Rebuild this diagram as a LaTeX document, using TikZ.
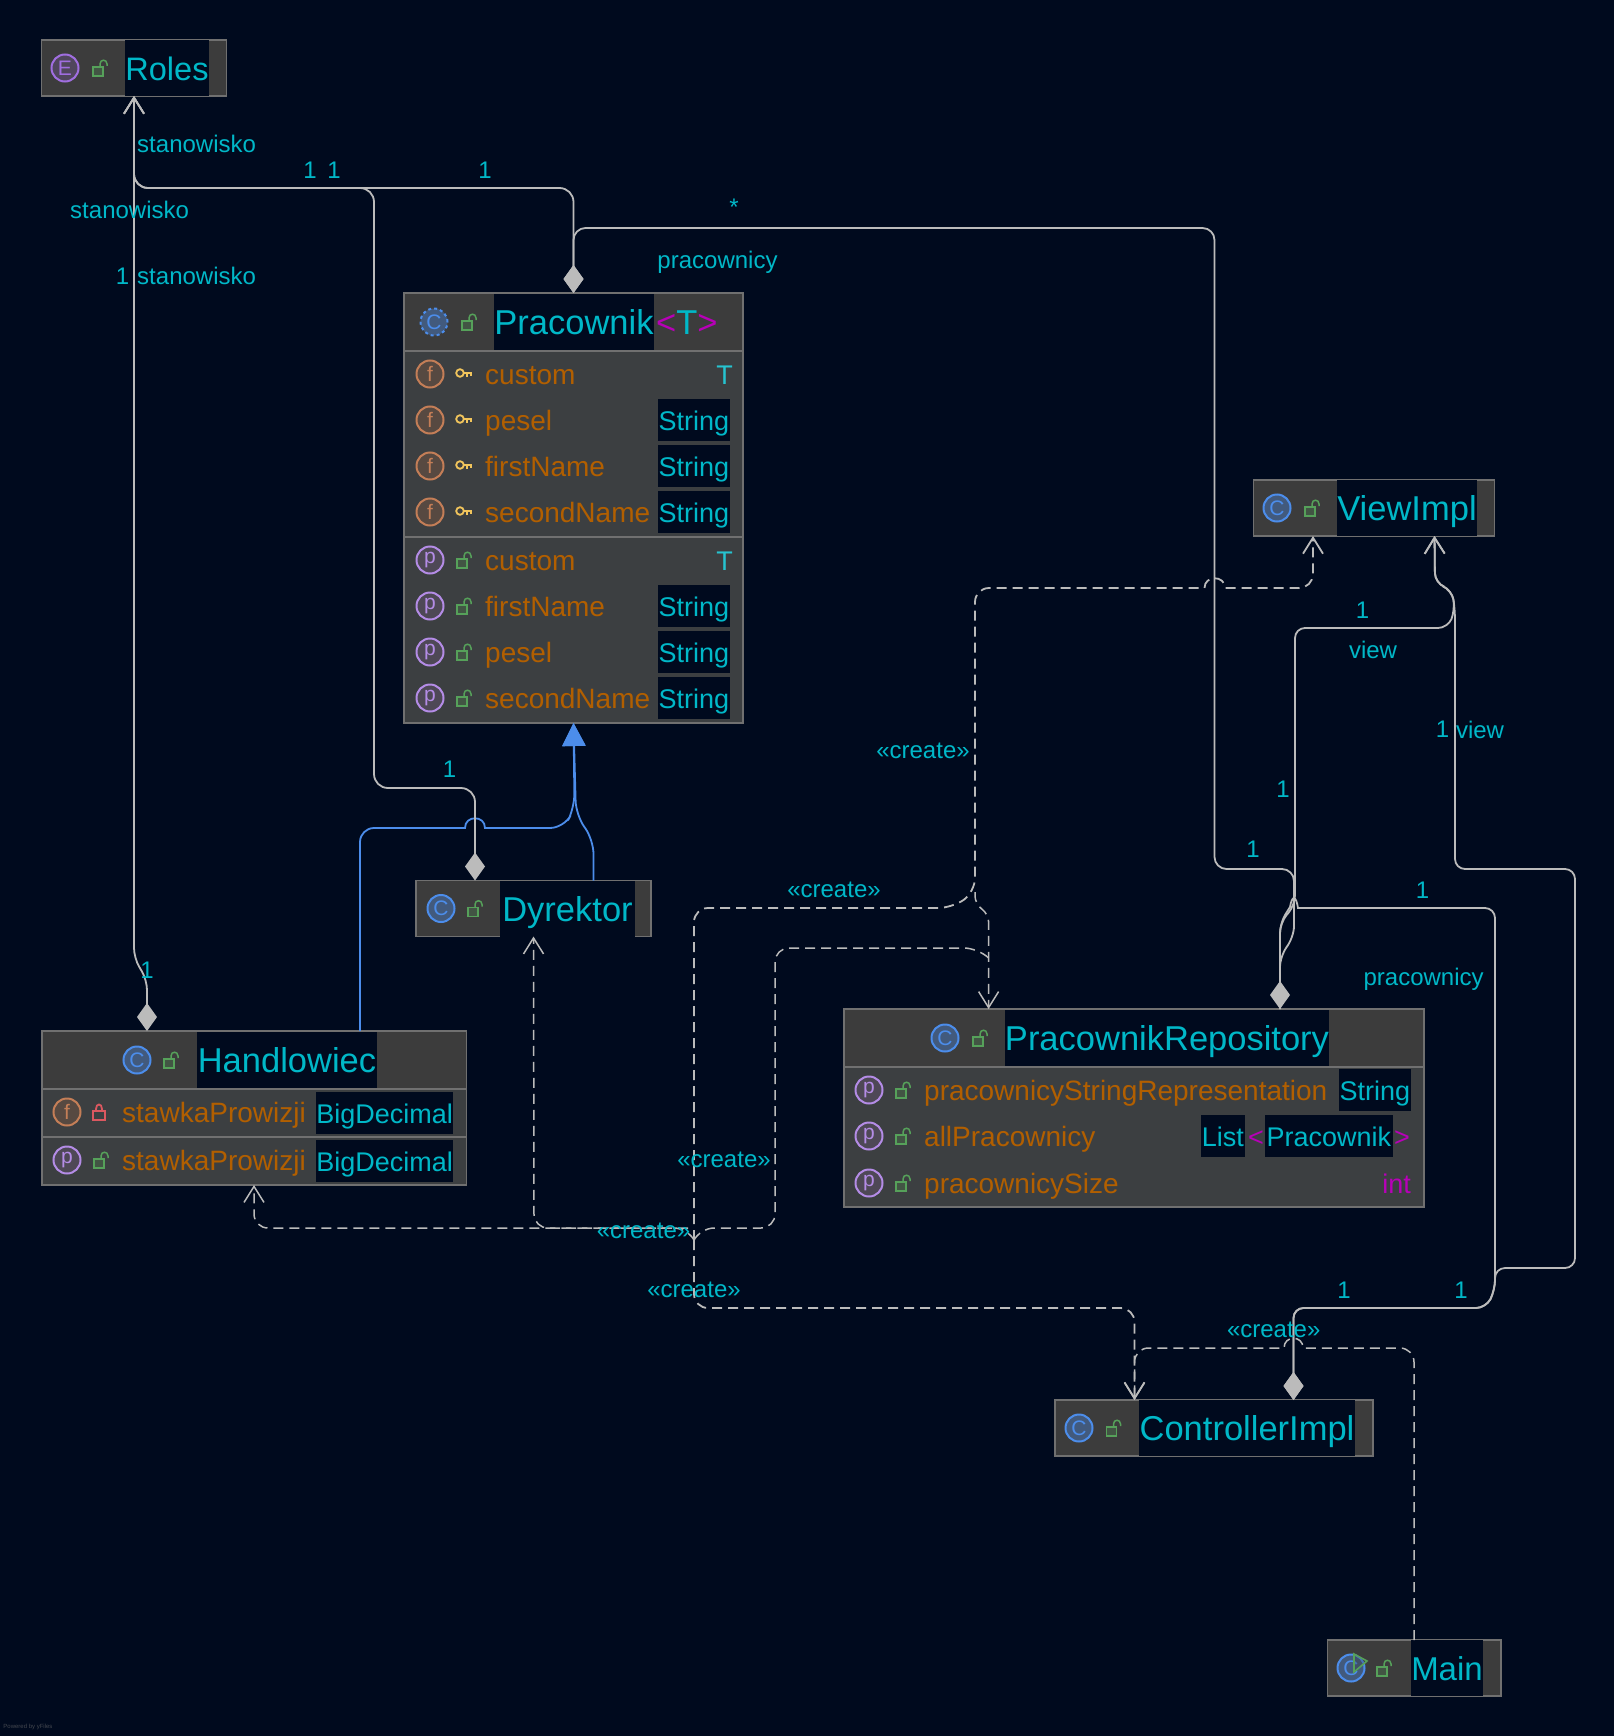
\documentclass[tikz,border=0pt]{standalone}
\usepackage{fontspec}
\setmainfont{Liberation Sans}
\usetikzlibrary{arrows.meta}
\definecolor{bgcol}{HTML}{000A1E}
\definecolor{headcol}{HTML}{3C3C3C}
\definecolor{bodycol}{HTML}{3C3F41}
\definecolor{framecol}{HTML}{707070}
\definecolor{edgecol}{HTML}{BBBBBB}
\definecolor{inhcol}{HTML}{4C8DEB}
\definecolor{namecol}{HTML}{00B8C8}
\definecolor{membcol}{HTML}{B25F00}
\definecolor{magcol}{HTML}{B800B8}
\definecolor{lockcol}{HTML}{56A15A}
\definecolor{redcol}{HTML}{DB5860}
\definecolor{keycol}{HTML}{F2C55C}
\definecolor{fieldcol}{HTML}{C47E57}
\definecolor{propcol}{HTML}{B48CE6}
\definecolor{enumcol}{HTML}{A06EE0}
\tikzset{
  classbox/.style={draw=framecol,fill=headcol,line width=1.5pt,inner sep=0pt,outer sep=0pt},
  namebox/.style={fill=bgcol,text=namecol,inner sep=0pt,text height=40.5pt,text depth=15.5pt,font=\fontsize{34.5}{36}\selectfont},
  typebox/.style={fill=bgcol,text=namecol,inner sep=0pt,text height=31pt,text depth=11pt,anchor=east,font=\fontsize{27}{30}\selectfont},
  membertext/.style={text=membcol,inner sep=0pt,anchor=base west,font=\fontsize{28}{30}\selectfont},
  elabel/.style={text=namecol,inner sep=0pt,font=\fontsize{24}{26}\selectfont},
  kindbase/.style={circle,line width=2pt,inner sep=0pt,minimum size=27pt,font=\fontsize{21}{22}\selectfont},
  kindc/.style={kindbase,draw=inhcol,fill=inhcol!35!bodycol,text=inhcol},
  kinde/.style={kindbase,draw=enumcol,fill=enumcol!20!headcol,text=enumcol},
  kindf/.style={kindbase,draw=fieldcol,fill=fieldcol!20!headcol,text=fieldcol},
  kindp/.style={kindbase,draw=propcol,fill=propcol!15!headcol,text=propcol},
  openlock/.pic={
    \draw[lockcol,line width=1.5pt,fill=lockcol!25!headcol] (-6,-1) rectangle (4,8);
    \draw[lockcol,line width=1.5pt] (1,-1) -- (1,-4) .. controls (1,-9) and (8,-9) .. (8,-4) -- (8,-2);
  },
  shutlock/.pic={
    \draw[redcol,line width=1.8pt] (-7,-1) rectangle (5,8);
    \draw[redcol,line width=1.8pt] (-4,-1) -- (-4,-3) .. controls (-4,-9) and (2,-9) .. (2,-3) -- (2,-1);
  },
  keyicon/.pic={
    \draw[keycol,line width=1.8pt] (-3,-1) circle [radius=3.8];
    \draw[keycol,line width=1.8pt] (1,-1) -- (9,-1) (4,-1) -- (4,3) (8,-1) -- (8,2);
  },
  assoc/.style={draw=edgecol,line width=1.8pt,rounded corners=14pt},
  compo/.style={assoc,{Diamond[length=28pt,width=20pt,fill=edgecol]}-{Straight Barb[length=16pt,width=20pt]}},
  compoend/.style={assoc,{Diamond[length=28pt,width=20pt,fill=edgecol]}-},
  create/.style={draw=edgecol,line width=1.8pt,rounded corners=14pt,dash pattern=on 10pt off 6pt},
  createto/.style={create,-{Straight Barb[length=16pt,width=20pt]}},
  inherit/.style={draw=inhcol,line width=1.8pt,rounded corners=14pt,-{Triangle[length=23pt,width=23pt,fill=inhcol]}},
}
\newcommand{\memberrow}[7]{%
  \node (#1i) [#2] at (#5,#6) {#3};
  \pic at (#5+33,#6) {#4};
  \node (#1n) [membertext] at (#5+55,#6+10) {#7};
}
\begin{document}
\begin{tikzpicture}[x=1pt,y=-1pt]
  \useasboundingbox (0,0) rectangle (1614,1736);
  \fill[bgcol] (0,0) rectangle (1614,1736);

  % class boxes
  \node (roles) [classbox,minimum width=185pt,minimum height=56pt] at (134,68) {};
  \node (rolesname) [namebox,minimum width=84pt,font=\fontsize{32.5}{36}\selectfont] at (167,68) {Roles};
  \node (rolesicon) [kinde] at (65,68) {E};
  \pic at (99,68) {openlock};

  \node (pracownik) [classbox,minimum width=339pt,minimum height=430pt] at (573.5,508) {};
  \fill[bodycol] (405,351) rectangle (742,722);
  \draw[framecol,line width=1.5pt] (404,351) -- (743,351) (404,537) -- (743,537);
  \node (pracownikname) [namebox,minimum width=160pt] at (574,322) {Pracownik};
  \node (pracownikT) [namecol,inner sep=0pt,anchor=base west,font=\fontsize{34.5}{36}\selectfont] at (656,334.5)
    {\textcolor{magcol}{<}T\textcolor{magcol}{>}};
  \node (pracownikicon) [kindc,dashed] at (434,322) {C};
  \pic at (468,322) {openlock};
  \foreach \rowid/\rowy/\rowname in {fa/374/custom,fb/420/pesel,fc/466/firstName,fd/512/secondName}{
    \memberrow{\rowid}{kindf}{f}{keyicon}{430}{\rowy}{\rowname}
  }
  \foreach \rowid/\rowy/\rowname in {pa/560/custom,pb/606/firstName,pc/652/pesel,pd/698/secondName}{
    \memberrow{\rowid}{kindp}{p}{openlock}{430}{\rowy}{\rowname}
  }
  \foreach \rowy in {420,466,512,606,652,698}{
    \node (type\rowy) [typebox,minimum width=72pt] at (730,\rowy) {String};
  }
  \node (typefa) [typebox,fill=none,text=namecol!85!white] at (733,374) {T};
  \node (typepa) [typebox,fill=none,text=namecol!85!white] at (733,560) {T};

  \node (view) [classbox,minimum width=241pt,minimum height=56pt] at (1374,508) {};
  \node (viewname) [namebox,minimum width=140pt] at (1407,508) {ViewImpl};
  \node (viewicon) [kindc] at (1277,508) {C};
  \pic at (1311,508) {openlock};

  \node (dyrektor) [classbox,minimum width=235pt,minimum height=56pt] at (533.5,908.5) {};
  \node (dyrektorname) [namebox,minimum width=135pt] at (567.5,908.5) {Dyrektor};
  \node (dyrektoricon) [kindc] at (441,908.5) {C};
  \pic at (474,908.5) {openlock};

  \node (handlowiec) [classbox,minimum width=424.5pt,minimum height=154pt] at (254,1108) {};
  \fill[bodycol] (43,1089) rectangle (466,1184);
  \draw[framecol,line width=1.5pt] (42,1089) -- (466,1089) (42,1137) -- (466,1137);
  \node (handlowiecname) [namebox,minimum width=180pt] at (287,1060) {Handlowiec};
  \node (handlowiecicon) [kindc] at (137,1060) {C};
  \pic at (170,1060) {openlock};
  \memberrow{ha}{kindf}{f}{shutlock}{67}{1112}{stawkaProwizji}
  \memberrow{hb}{kindp}{p}{openlock}{67}{1160}{stawkaProwizji}
  \node (typeha) [typebox,minimum width=136pt] at (453,1113) {BigDecimal};
  \node (typehb) [typebox,minimum width=136pt] at (453,1161) {BigDecimal};

  \node (repo) [classbox,minimum width=580pt,minimum height=198pt] at (1134,1108) {};
  \fill[bodycol] (845,1067) rectangle (1423,1206);
  \draw[framecol,line width=1.5pt] (844,1067) -- (1424,1067);
  \node (reponame) [namebox,minimum width=324pt] at (1167,1038) {PracownikRepository};
  \node (repoicon) [kindc] at (945,1038) {C};
  \pic at (979,1038) {openlock};
  \memberrow{ra}{kindp}{p}{openlock}{869}{1090}{pracownicyStringRepresentation}
  \memberrow{rb}{kindp}{p}{openlock}{869}{1136}{allPracownicy}
  \memberrow{rc}{kindp}{p}{openlock}{869}{1183}{pracownicySize}
  \node (typera) [typebox,minimum width=72pt] at (1411,1090) {String};
  \node (typerb) [typebox,minimum width=128pt] at (1393,1136) {Pracownik};
  \node (typerl) [typebox,minimum width=44pt] at (1245,1136) {List};
  \node (typerbl) [typebox,fill=none,text=magcol] at (1264,1136) {<};
  \node (typerbr) [typebox,fill=none,text=magcol] at (1410,1136) {>};
  \node (typerc) [typebox,fill=none,text=magcol] at (1411,1183) {int};

  \node (ctrl) [classbox,minimum width=318pt,minimum height=56pt] at (1214,1428) {};
  \node (ctrlname) [namebox,minimum width=216pt] at (1247,1428) {ControllerImpl};
  \node (ctrlicon) [kindc] at (1079,1428) {C};
  \pic at (1112.5,1428) {openlock};

  \node (main) [classbox,minimum width=173.5pt,minimum height=56pt] at (1414,1668) {};
  \node (mainname) [namebox,minimum width=72pt,font=\fontsize{33}{36}\selectfont] at (1447,1668) {Main};
  \node (mainicon) [kindc] at (1351,1668) {C};
  \draw[lockcol,line width=1.6pt,fill=headcol,fill opacity=0.3] (1354,1654) -- (1367,1661) -- (1354,1672) -- cycle;
  \pic at (1383,1668) {openlock};

  % inheritance
  \draw[inherit] ([xshift=106pt]handlowiec.north) -- (360,828) -- (450,828) [sharp corners] -- (465,828)
    .. controls (465,815) and (485,815) .. (485,828) -- (500,828) [rounded corners=14pt] -- (564,828) -- (574.5,808) -- (pracownik.south);
  \draw[inherit] ([xshift=60pt]dyrektor.north) -- (593.5,840) -- (576,815) -- (pracownik.south);

  % composition
  \draw[compo,rounded corners=10pt] ([xshift=-107pt]handlowiec.north) -- (147,980) -- (134,958) -- (roles.south);
  \draw[compo] ([xshift=-58.5pt]dyrektor.north) -- (475,788) -- (374,788) -- (374,188) -- (134,188) -- (roles.south);
  \draw[compo] (pracownik.north) -- (573.5,188) -- (134,188) -- (roles.south);
  \draw[compoend,rounded corners=12pt] (pracownik.north) -- (573.5,228) -- (1214.5,228) -- (1214.5,869)
    -- (1294,869) -- (1294,938) -- (1280,955) -- ([xshift=146pt]repo.north);
  \draw[compo,rounded corners=10pt] ([xshift=146pt]repo.north) -- (1280,923) -- (1295,905) -- (1295,628)
    -- (1448,628) -- (1455,610) -- (1452,590) -- (1435,583) -- ([xshift=60.5pt]view.south);
  \draw[compo,rounded corners=10pt] ([xshift=79.5pt]ctrl.north) -- (1293.5,1308) -- (1486,1308) -- (1495,1290)
    -- (1495,1268) -- (1575,1268) -- (1575,869) -- (1455,869) -- (1455,610) -- (1452,590) -- (1435,583)
    -- ([xshift=60.5pt]view.south);
  \draw[compoend,rounded corners=10pt] ([xshift=79.5pt]ctrl.north) -- (1293.5,1308) -- (1486,1308) -- (1495,1290)
    -- (1495,908) -- (1320,908) [sharp corners] -- (1298,908) .. controls (1296,895) and (1292,895) .. (1290,907) [rounded corners=10pt] -- (1280,923)
    -- ([xshift=146pt]repo.north);

  % create
  \coordinate (junc) at (694,1240);
  \coordinate (fork) at (975,892);
  \coordinate (split) at (988.6,958);
  \draw[createto,line width=1.5pt] (main.north) -- (1414,1348) -- (1320,1348) [sharp corners] -- (1303,1348)
    .. controls (1303,1335) and (1284,1335) .. (1284,1348) -- (1265,1348) [rounded corners=14pt] -- (1134.5,1348) -- ([xshift=-79.5pt]ctrl.north);
  \draw[createto] (junc) -- (694,1308) -- (1134.5,1308) -- ([xshift=-79.5pt]ctrl.north);
  \draw[createto] (junc) -- (694,908) -- (952,908) -- (fork) -- (975,588) -- (1185,588) [sharp corners] -- (1204.5,588)
    .. controls (1204.5,575) and (1225,575) .. (1225,588) -- (1245,588) [rounded corners=14pt] -- (1313,588) -- ([xshift=-61pt]view.south);
  \draw[createto,line width=1.5pt,rounded corners=8pt] (fork) -- (975,904) -- (988.6,914) -- ([xshift=-145.4pt]repo.north);
  \draw[create,line width=1.5pt] (split) -- (978,948) -- (775,948) -- (775,1228) -- (700,1228) -- (junc);
  \draw[createto,line width=1.5pt] (junc) -- (688,1228) -- (254,1228) -- (handlowiec.south);
  \draw[createto,line width=1.5pt] (688,1228) -- (534,1228) -- (dyrektor.south);

  % edge labels
  \node (la) [elabel] at (196.6,144) {stanowisko};
  \node (lb) [elabel] at (129.6,210) {stanowisko};
  \node (lc) [elabel] at (196.6,276) {stanowisko};
  \node (ld) [elabel] at (122.5,276) {1};
  \node (le) [elabel] at (310,170) {1};
  \node (lf) [elabel] at (334,170) {1};
  \node (lg) [elabel] at (485,170) {1};
  \node (lh) [elabel] at (734,207) {*};
  \node (li) [elabel] at (717.5,262) {pracownicy};
  \node (lj) [elabel] at (449.5,769) {1};
  \node (lk) [elabel] at (147,970) {1};
  \node (ll) [elabel] at (923,750.5) {«create»};
  \node (lm) [elabel] at (834,890) {«create»};
  \node (ln) [elabel] at (724,1160) {«create»};
  \node (lo) [elabel] at (643.5,1231) {«create»};
  \node (lp) [elabel] at (694,1290) {«create»};
  \node (lq) [elabel] at (1273.7,1330) {«create»};
  \node (lr) [elabel] at (1344,1290) {1};
  \node (ls) [elabel] at (1461,1290) {1};
  \node (lt) [elabel] at (1362.6,610) {1};
  \node (lu) [elabel] at (1373,650) {view};
  \node (lv) [elabel] at (1442.6,729.5) {1};
  \node (lw) [elabel] at (1480,729.5) {view};
  \node (lx) [elabel] at (1283,789) {1};
  \node (ly) [elabel] at (1253,849) {1};
  \node (lz) [elabel] at (1422.5,890) {1};
  \node (laa) [elabel] at (1423.6,979.7) {pracownicy};
  \node (powered) [inner sep=0pt,text=framecol!60!bgcol,font=\fontsize{6}{7}\selectfont] at (28,1727) {Powered by yFiles};
\end{tikzpicture}
\end{document}
